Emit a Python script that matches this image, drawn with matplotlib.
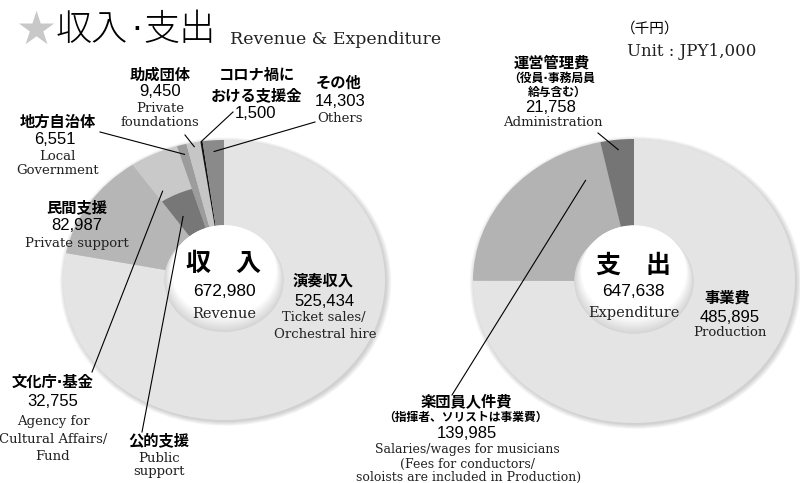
import numpy as np
import matplotlib
matplotlib.use('Agg')
import matplotlib.pyplot as plt
from matplotlib.patches import Wedge, Circle

# revenue (clockwise from 12 o'clock)
rev_names = ['演奏収入', '民間支援', '文化庁・基金', '地方自治体', '助成団体', 'コロナ禍における支援金', 'その他']
rev_values = [525434, 82987, 32755, 6551, 9450, 1500, 14303]
rev_total = 672980
rev_colors = ['#e4e4e4', '#b6b6b6', '#c9c9c9', '#9c9c9c', '#c6c6c6', '#111111', '#8a8a8a']
public_idx = 2  # inner "公的支援" wedge sits under this slice

# expenditure
exp_names = ['事業費', '楽団員人件費', '運営管理費']
exp_values = [485895, 139985, 21758]
exp_total = 647638
exp_colors = ['#e4e4e4', '#b3b3b3', '#757575']

HOLE = 0.37
JP = ['Noto Sans CJK JP', 'DejaVu Sans']
JP_DOT = ['DejaVu Sans', 'Noto Sans CJK JP']  # narrow middle dot
W, H = 800, 483


def slice_span(values, i):
    cum = np.cumsum([0] + list(values)) / float(sum(values))
    start = 90 - 360 * cum[i]
    end = 90 - 360 * cum[i + 1]
    return start, end


def draw_donut(ax, values, colors):
    # soft shadow on the lower right
    for k in range(6):
        ax.add_patch(Circle((0.01, -0.012), 1.0 + 0.006 * k, color='k', alpha=0.03, lw=0, clip_on=False))
    wedges, _ = ax.pie(values, colors=colors, startangle=90, counterclock=False, radius=1,
                       wedgeprops=dict(width=1 - HOLE, linewidth=0))
    for w in wedges:
        w.set_clip_on(False)
    ax.set_aspect('auto')
    ax.set_xlim(-1, 1)
    ax.set_ylim(-1, 1)
    ax.axis('off')


def shade_hole(ax):
    n = 12
    for i in range(n):
        g = 0.84 + 0.16 * i / (n - 1)
        ax.add_patch(Circle((0, 0.006 * i), HOLE - 0.004 * i, color=(g, g, g), lw=0, zorder=5, clip_on=False))


fig = plt.figure(figsize=(W / 100, H / 100), dpi=100)

ax_rev = fig.add_axes([63 / W, (H - 420) / H, 322 / W, 280 / H])
draw_donut(ax_rev, rev_values, rev_colors)
s, e = slice_span(rev_values, public_idx)
ax_rev.add_patch(Wedge((0, 0), 0.68, e, s, width=0.68 - HOLE, color='#777777', lw=0, zorder=3))
shade_hole(ax_rev)

ax_exp = fig.add_axes([473 / W, (H - 423) / H, 322 / W, 284 / H])
draw_donut(ax_exp, exp_values, exp_colors)
shade_hole(ax_exp)

ov = fig.add_axes([0, 0, 1, 1])
ov.set_xlim(0, W)
ov.set_ylim(H, 0)
ov.axis('off')
ov.patch.set_alpha(0)


def to_ov(ax, x, y):
    return ov.transData.inverted().transform(ax.transData.transform((x, y)))


def leader(ax, values, i, f, r, start):
    s, e = slice_span(values, i)
    th = np.deg2rad(s + f * (e - s))
    px, py = to_ov(ax, r * np.cos(th), r * np.sin(th))
    ov.plot([start[0], px], [start[1], py], color='k', lw=0.8, zorder=10)


def jp(x, y, s, size=11, weight='bold', ha='center', family=JP):
    ov.text(x, y, s, ha=ha, va='center', fontsize=size, family=family, weight=weight, zorder=11)


def num(x, y, s, size=12):
    ov.text(x, y, s, ha='center', va='center', fontsize=size, family='Liberation Sans', zorder=11)


def en(x, y, s, size=9.5, ha='center'):
    ov.text(x, y, s, ha=ha, va='center', fontsize=size, family='DejaVu Serif', color='#222222',
            linespacing=0.95, zorder=11)


# title
ov.text(15, 31, '★', fontsize=33, color='#c8c8c8', va='center', ha='left', family='DejaVu Sans')
ov.text(56, 30, '収入', fontsize=26, va='center', ha='left', family=JP, weight='light')
ov.text(137, 30, '·', fontsize=24, va='center', ha='center', family='DejaVu Sans')
ov.text(143, 30, '支出', fontsize=26, va='center', ha='left', family=JP, weight='light')
en(230, 39, 'Revenue & Expenditure', size=12.5, ha='left')
jp(621, 29, '（千円）', size=10.5, weight='normal', ha='left')
en(627, 51, 'Unit : JPY1,000', size=12, ha='left')

# revenue labels
jp(160, 75, rev_names[4]); num(160, 92, f'{rev_values[4]:,}'); en(160, 108, 'Private'); en(160, 123, 'foundations')
jp(257, 75, 'コロナ禍に'); jp(256, 95, 'おける支援金'); num(255, 113, f'{rev_values[5]:,}')
jp(339, 83, rev_names[6]); num(340, 102, f'{rev_values[6]:,}'); en(340, 119, 'Others')
jp(58, 122, rev_names[3]); num(55, 140, f'{rev_values[3]:,}'); en(57, 157, 'Local'); en(58, 170, 'Government')
jp(77, 207, rev_names[1]); num(77, 226, f'{rev_values[1]:,}'); en(77, 243, 'Private support')
jp(53, 382, '文化庁·基金', family=JP_DOT); num(53, 402, f'{rev_values[2]:,}'); en(53, 421, 'Agency for')
en(53, 439, 'Cultural Affairs/'); en(53, 456, 'Fund')
jp(159, 440, '公的支援'); en(159, 459, 'Public'); en(159, 471, 'support')
jp(323, 281, rev_names[0]); num(324, 301, f'{rev_values[0]:,}'); en(324, 317, 'Ticket sales/'); en(325, 335, 'Orchestral hire')
jp(223, 264, '収　入', size=18); num(224, 292, f'{rev_total:,}', size=12.5); en(224, 314, 'Revenue', size=10.5)

leader(ax_rev, rev_values, 4, 0.5, 0.97, (185, 135))
leader(ax_rev, rev_values, 5, 0.5, 1.0, (233, 112))
leader(ax_rev, rev_values, 6, 0.5, 0.92, (315, 122))
leader(ax_rev, rev_values, 3, 0.5, 0.93, (100, 132))
leader(ax_rev, rev_values, 2, 0.2, 0.74, (92, 372))
leader(ax_rev, rev_values, 2, 0.3, 0.52, (142, 432))

# expenditure labels
jp(633, 266, '支　出', size=18); num(633, 292, f'{exp_total:,}', size=12.5); en(634, 313, 'Expenditure', size=10.5)
jp(727, 298, exp_names[0]); num(730, 317, f'{exp_values[0]:,}'); en(730, 333, 'Production')
jp(552, 63, exp_names[2]); jp(552, 78, '（役員·事務局員', size=8.5, family=JP_DOT); jp(557, 92, '給与含む）', size=8.5)
num(551, 107, f'{exp_values[2]:,}'); en(553, 122, 'Administration')
jp(466, 401, exp_names[1]); jp(465, 417, '（指揮者、ソリストは事業費）', size=8.5)
num(467, 433, f'{exp_values[1]:,}'); en(467, 450, 'Salaries/wages for musicians', size=9)
en(467, 464, '(Fees for conductors/', size=9); en(469, 477, 'soloists are included in Production)', size=9)

leader(ax_exp, exp_values, 1, 0.86, 0.77, (452, 395))
leader(ax_exp, exp_values, 2, 0.5, 0.93, (598, 133))

fig.savefig('out.png', dpi=100)
